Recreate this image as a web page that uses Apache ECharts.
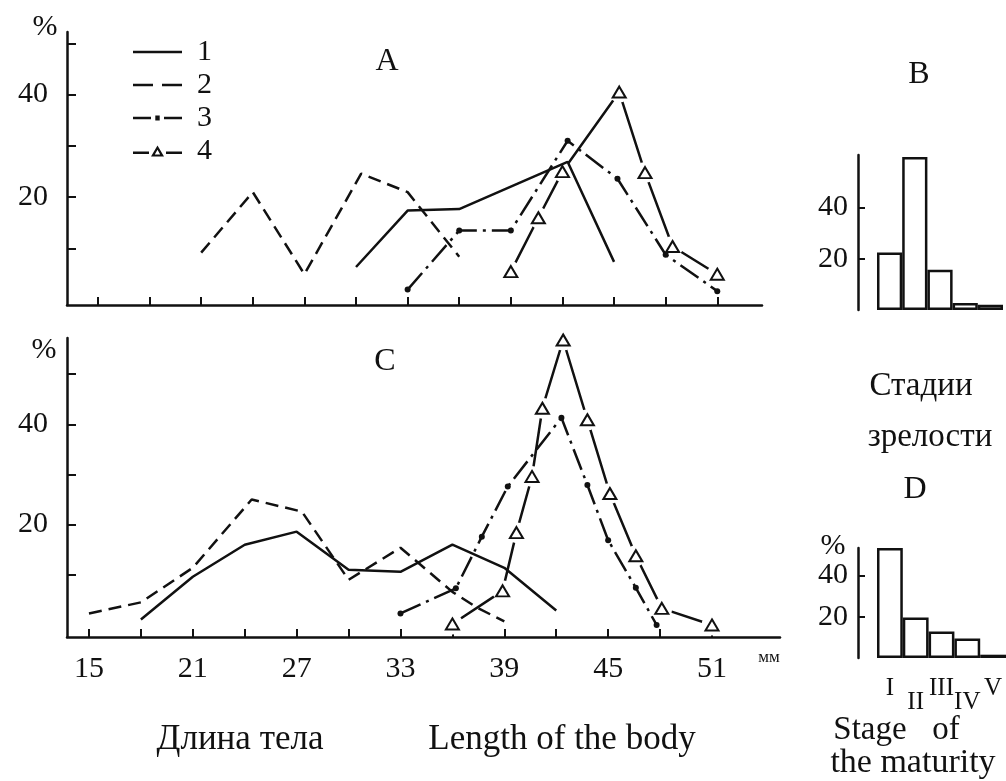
<!DOCTYPE html>
<html>
<head>
<meta charset="utf-8">
<script src="https://cdn.jsdelivr.net/npm/echarts@6/dist/echarts.min.js"></script>
<style>
  html, body { margin: 0; padding: 0; background: #fff; }
  #chart { width: 1006px; height: 781px; }
</style>
</head>
<body>
<div id="chart"></div>
<script>
const FONT = 'Liberation Serif';
const INK = '#111';

// body length, mm
const lengthTicks = [15, 18, 21, 24, 27, 30, 33, 36, 39, 42, 45, 48, 51];
const lengthLabels = [15, 21, 27, 33, 39, 45, 51];
const percentTicks = [10, 20, 30, 40, 50];
const percentLabels = [20, 40];

// panel A: [length, %]
const a1 = [[30, 6.4], [33, 17.4], [36, 17.7], [42.3, 26.9], [45, 7.4]];
const a2 = [[21, 9.2], [24, 21], [27, 5], [30.3, 24.6], [33, 21], [36, 8.4]];
const a3 = [[33, 2], [36, 13.5], [39, 13.5], [42.3, 31], [45.2, 23.6], [48, 8.8], [51, 1.7]];
const a4 = [[39, 5.5], [40.6, 16], [42, 25], [45.3, 40.5], [46.8, 24.8], [48.4, 10.4], [51, 5]];

// panel C: [length, %]
const c1 = [[18, 1.1], [21, 9.6], [24, 16], [27, 18.6], [30, 11], [33, 10.6], [36, 16], [39, 11.4], [42, 2.9]];
const c2 = [[15, 2.3], [18, 4.5], [21, 11.4], [24.4, 25], [27.3, 22.6], [30, 9], [33, 15.4], [36, 6.6], [37.4, 3.5], [39, 0.7]];
const c3 = [[33, 2.3], [36.2, 7.3], [37.7, 17.6], [39.2, 27.6], [42.3, 41.3], [43.8, 27.9], [45, 16.9], [46.6, 7.4], [47.8, 0]];
const c4 = [[36, 0.2], [38.9, 6.8], [39.7, 18.4], [40.6, 29.6], [41.2, 43.2], [42.4, 56.8], [43.8, 40.9], [45.1, 26.2], [46.6, 13.8], [48.1, 3.3], [51, 0]];

// maturity stages
const stages = ['I', 'II', 'III', 'IV', 'V'];
const stageB = [22.4, 59.6, 15.7, 2.7, 2];
const stageD = [53.3, 19.6, 12.9, 9.4, 1.6];

const seriesNames = ['1', '2', '3', '4'];

// legend glyphs: solid, dashed, dash-dot, dash-triangle
const legendIcons = [
  'path://M0,0h49v2.6h-49z',
  'path://M0,0h20v2.6h-20z M29,0h20v2.6h-20z',
  'path://M0,0h18v2.6h-18z M22.3,-1.1h4.4v4.8h-4.4z M31,0h18v2.6h-18z',
  'path://M0,0h16v2.6h-16z M33,0h16v2.6h-16z M18,5L24.5,-6L31,5Z M21.8,3L27.2,3L24.5,-1.8Z'
];

const axisLineStyle = { color: INK, width: 2.5 };
const labelStyle = { fontFamily: FONT, fontSize: 30, color: INK };

function lengthAxis(gridIndex, min, max, showLabels) {
  return {
    type: 'value', gridIndex, min, max,
    axisLine: { onZero: false, lineStyle: axisLineStyle },
    axisTick: { inside: true, length: 8, lineStyle: { color: INK, width: 2 }, customValues: lengthTicks },
    axisLabel: { show: showLabels, customValues: lengthLabels, margin: 17, ...labelStyle },
    splitLine: { show: false }
  };
}

function percentAxis(gridIndex, min, max) {
  return {
    type: 'value', gridIndex, min, max,
    axisLine: { show: true, lineStyle: axisLineStyle },
    axisTick: { show: true, inside: true, length: 9, lineStyle: { color: INK, width: 2 }, customValues: percentTicks },
    axisLabel: { customValues: percentLabels, margin: 19, ...labelStyle },
    splitLine: { show: false }
  };
}

function stageAxis(gridIndex, showLabels) {
  return {
    type: 'category', gridIndex, data: stages,
    axisLine: { show: false }, axisTick: { show: false },
    axisLabel: {
      show: showLabels, margin: 18, interval: 0,
      formatter: (v, i) => (i % 2 ? '{lo|' + v + '}' : '{hi|' + v + '}'),
      rich: {
        hi: { fontFamily: FONT, fontSize: 25, color: INK },
        lo: { fontFamily: FONT, fontSize: 25, color: INK, padding: [14, 0, 0, 0] }
      }
    }
  };
}

function stagePercentAxis(gridIndex, max) {
  return {
    type: 'value', gridIndex, min: 0, max, offset: 19,
    axisLine: { show: true, lineStyle: axisLineStyle },
    axisTick: { show: true, inside: true, length: 7, lineStyle: { color: INK, width: 2 }, customValues: percentLabels },
    axisLabel: { customValues: percentLabels, margin: 10, ...labelStyle },
    splitLine: { show: false }
  };
}

function lineSeries(name, data, axisIndex, kind) {
  const s = {
    name, type: 'line', data, xAxisIndex: axisIndex, yAxisIndex: axisIndex,
    lineStyle: { color: INK, width: 2.5 },
    itemStyle: { color: INK },
    symbol: 'none', animation: false, z: 4
  };
  if (kind === 2) s.lineStyle.type = [13, 7];
  if (kind === 3) {
    s.lineStyle.type = [22, 6, 3, 6];
    s.symbol = 'circle';
    s.symbolSize = 6;
  }
  return s;
}

// series 4: the line is broken around each open triangle
function triangleSeries(name, data, axisIndex) {
  const base = { name, type: 'line', data, xAxisIndex: axisIndex, yAxisIndex: axisIndex, animation: false };
  return [
    { ...base, symbol: 'none', z: 2, lineStyle: { color: INK, width: 2.5 }, itemStyle: { color: INK } },
    { ...base, symbol: 'circle', symbolSize: 21, z: 3, silent: true,
      lineStyle: { opacity: 0 }, itemStyle: { color: '#fff' } },
    { ...base, symbol: 'emptyTriangle', symbolSize: [13, 11], z: 5,
      lineStyle: { opacity: 0 }, itemStyle: { color: INK, borderColor: INK, borderWidth: 2.5 } }
  ];
}

function barSeries(data, axisIndex) {
  return {
    type: 'bar', data, xAxisIndex: axisIndex, yAxisIndex: axisIndex,
    barCategoryGap: 0,
    itemStyle: { color: '#fff', borderColor: INK, borderWidth: 2.5 },
    animation: false
  };
}

function txt(text, x, y, size) {
  return {
    type: 'text', x, y,
    style: { text, font: size + 'px "' + FONT + '"', fill: INK, textAlign: 'center', textVerticalAlign: 'middle' }
  };
}

const chart = echarts.init(document.getElementById('chart'));
chart.setOption({
  backgroundColor: '#fff',
  animation: false,
  grid: [
    { left: 67, top: 32, width: 695, height: 273 },
    { left: 67, top: 338, width: 713, height: 299 },
    { left: 877, top: 155, width: 126, height: 155 },
    { left: 877, top: 548, width: 130, height: 110 }
  ],
  xAxis: [
    lengthAxis(0, 13.2, 53.6, false),
    lengthAxis(1, 13.73, 54.93, true),
    stageAxis(2, false),
    stageAxis(3, true)
  ],
  yAxis: [
    percentAxis(0, -1, 52.2),
    percentAxis(1, -2.4, 57.2),
    stagePercentAxis(2, 60.4),
    stagePercentAxis(3, 53.3)
  ],
  legend: {
    orient: 'vertical', left: 133, top: 37, padding: 0,
    itemWidth: 49, itemHeight: 11, itemGap: 3,
    itemStyle: { borderWidth: 0 },
    textStyle: { fontFamily: FONT, fontSize: 30, color: INK, lineHeight: 29, padding: [0, 0, 0, 10] },
    data: seriesNames.map((name, i) => ({ name, icon: legendIcons[i] }))
  },
  series: [
    lineSeries(seriesNames[0], a1, 0, 1),
    lineSeries(seriesNames[1], a2, 0, 2),
    lineSeries(seriesNames[2], a3, 0, 3),
    ...triangleSeries(seriesNames[3], a4, 0),
    lineSeries(seriesNames[0], c1, 1, 1),
    lineSeries(seriesNames[1], c2, 1, 2),
    lineSeries(seriesNames[2], c3, 1, 3),
    ...triangleSeries(seriesNames[3], c4, 1),
    barSeries(stageB, 2),
    barSeries(stageD, 3)
  ],
  graphic: [
    txt('%', 45, 27, 30),
    txt('%', 44, 350, 30),
    txt('%', 833, 546, 30),
    txt('A', 387, 62, 32),
    txt('C', 385, 362, 32),
    txt('B', 919, 75, 32),
    txt('D', 915, 490, 32),
    txt('мм', 769, 658, 17),
    txt('Длина тела', 240, 740, 35),
    txt('Length of the body', 562, 740, 35),
    txt('Стадии', 921, 386, 33),
    txt('зрелости', 930, 437, 33),
    txt('Stage', 870, 730, 33),
    txt('of', 946, 730, 33),
    txt('the maturity', 913, 763, 34)
  ]
});
</script>
</body>
</html>
